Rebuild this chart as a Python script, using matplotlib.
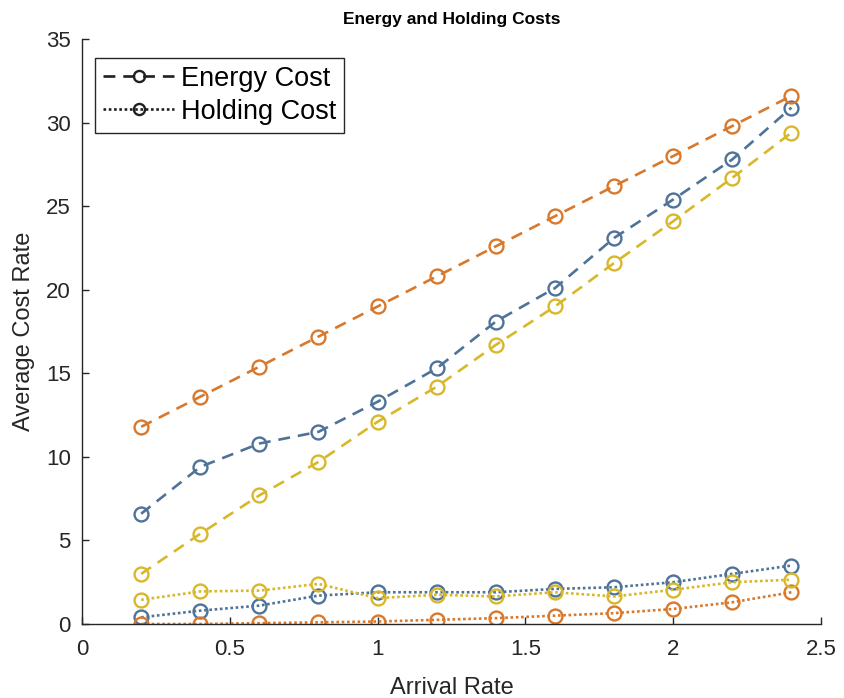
import matplotlib.pyplot as plt
import numpy as np

plt.rcParams['font.family'] = ['Liberation Sans', 'DejaVu Sans']

# arrival rates
arrival = [0.2, 0.4, 0.6, 0.8, 1.0, 1.2, 1.4, 1.6, 1.8, 2.0, 2.2, 2.4]

# energy cost per policy
energy_blue = [6.6, 9.4, 10.8, 11.5, 13.3, 15.3, 18.1, 20.1, 23.1, 25.4, 27.8, 30.9]
energy_orange = [11.8, 13.6, 15.4, 17.2, 19.0, 20.8, 22.6, 24.4, 26.2, 28.0, 29.8, 31.6]
energy_yellow = [3.0, 5.4, 7.7, 9.7, 12.1, 14.2, 16.7, 19.0, 21.6, 24.1, 26.7, 29.4]

# holding cost per policy
holding_blue = [0.4, 0.8, 1.1, 1.7, 1.9, 1.9, 1.9, 2.1, 2.2, 2.5, 3.0, 3.5]
holding_orange = [0.0, 0.0, 0.05, 0.1, 0.15, 0.25, 0.35, 0.5, 0.65, 0.9, 1.3, 1.9]
holding_yellow = [1.45, 1.95, 2.0, 2.4, 1.55, 1.75, 1.65, 1.9, 1.65, 2.05, 2.5, 2.65]

blue = '#4f7398'
orange = '#d9782b'
yellow = '#d8b82a'

fig = plt.figure(figsize=(8.44, 6.98), dpi=100)
ax = fig.add_axes([0.0972, 0.106, 0.8755, 0.838])

style = dict(marker='o', markersize=10, markerfacecolor='none', markeredgewidth=1.7, linewidth=1.9)
dash = (0, (4.5, 3))
dot = (0, (1, 1))

for vals, c in [(energy_blue, blue), (energy_orange, orange), (energy_yellow, yellow)]:
    ax.plot(arrival, vals, linestyle=dash, color=c, **style)
for vals, c in [(holding_blue, blue), (holding_orange, orange), (holding_yellow, yellow)]:
    ax.plot(arrival, vals, linestyle=dot, color=c, **style)

# legend proxies in black
lstyle = dict(style, markersize=8)
ax.plot([], [], linestyle=dash, color='#202020', label='Energy Cost', **lstyle)
ax.plot([], [], linestyle=dot, color='#202020', label='Holding Cost', **lstyle)
leg = ax.legend(loc='upper left', bbox_to_anchor=(0.018, 0.968), fontsize=19.5,
                frameon=True, fancybox=False, edgecolor='#262626', framealpha=1,
                handlelength=2.6, handletextpad=0.25, borderpad=0.3, labelspacing=0.25,
                borderaxespad=0)
leg.get_frame().set_linewidth(1.0)

ax.set_xlim(0, 2.5)
ax.set_ylim(0, 35)
ax.set_xticks([0, 0.5, 1, 1.5, 2, 2.5])
ax.set_xticklabels(['0', '0.5', '1', '1.5', '2', '2.5'])
ax.set_yticks(range(0, 36, 5))
ax.spines['top'].set_visible(False)
ax.spines['right'].set_visible(False)
for s in ['left', 'bottom']:
    ax.spines[s].set_color('#262626')
    ax.spines[s].set_linewidth(1.0)
ax.tick_params(direction='in', length=5, width=1.0, labelsize=16, colors='#262626')
ax.tick_params(axis='x', pad=11)
ax.tick_params(axis='y', pad=8)

ax.set_xlabel('Arrival Rate', fontsize=17, color='#262626', labelpad=12)
ax.set_ylabel('Average Cost Rate', fontsize=17, color='#262626', labelpad=8)
ax.set_title('Energy and Holding Costs', fontsize=12.5, fontweight='bold', pad=11)

fig.savefig('out.png', dpi=100)
